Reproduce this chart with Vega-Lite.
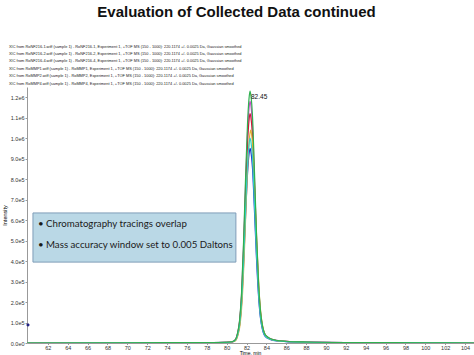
{
  "$schema": "https://vega.github.io/schema/vega-lite/v6.json",
  "width": 447,
  "height": 256,
  "autosize": {"type": "none"},
  "padding": {"left": 27, "top": 87, "right": 0, "bottom": 12},
  "background": "white",
  "config": {"view": {"stroke": null}, "font": "Liberation Sans", "axis": {"labelOverlap": false}},
  "title": {
    "text": "Evaluation of Collected Data continued",
    "fontSize": 15,
    "fontWeight": "bold",
    "font": "Liberation Sans",
    "color": "#111",
    "anchor": "middle",
    "frame": "group",
    "dx": -14,
    "offset": 24
  },
  "datasets": {
    "tr": [
      {"s":"RoNF216-1","t":59.9,"v":0},{"s":"RoNF216-1","t":70,"v":950},{"s":"RoNF216-1","t":78,"v":1900},{"s":"RoNF216-1","t":80.0,"v":2850},{"s":"RoNF216-1","t":80.6,"v":5700},{"s":"RoNF216-1","t":80.9,"v":14250},{"s":"RoNF216-1","t":81.1,"v":38000},{"s":"RoNF216-1","t":81.3,"v":85500},{"s":"RoNF216-1","t":81.5,"v":190000},{"s":"RoNF216-1","t":81.7,"v":380000},{"s":"RoNF216-1","t":81.9,"v":617500},{"s":"RoNF216-1","t":82.1,"v":826500},{"s":"RoNF216-1","t":82.25,"v":921500},{"s":"RoNF216-1","t":82.35,"v":950000},{"s":"RoNF216-1","t":82.45,"v":931000},{"s":"RoNF216-1","t":82.6,"v":855000},{"s":"RoNF216-1","t":82.8,"v":646000},{"s":"RoNF216-1","t":83.0,"v":418000},{"s":"RoNF216-1","t":83.2,"v":237500},{"s":"RoNF216-1","t":83.4,"v":123500},{"s":"RoNF216-1","t":83.6,"v":66500},{"s":"RoNF216-1","t":83.8,"v":38000},{"s":"RoNF216-1","t":84.1,"v":23750},{"s":"RoNF216-1","t":84.5,"v":15200},{"s":"RoNF216-1","t":85.0,"v":10450},{"s":"RoNF216-1","t":86.0,"v":6650},{"s":"RoNF216-1","t":88.0,"v":3800},{"s":"RoNF216-1","t":92.0,"v":1900},{"s":"RoNF216-1","t":100,"v":950},{"s":"RoNF216-1","t":104.9,"v":0},
      {"s":"RoNF216-2","t":59.9,"v":0},{"s":"RoNF216-2","t":70,"v":1180},{"s":"RoNF216-2","t":78,"v":2360},{"s":"RoNF216-2","t":80.0,"v":3540},{"s":"RoNF216-2","t":80.6,"v":7080},{"s":"RoNF216-2","t":80.9,"v":17700},{"s":"RoNF216-2","t":81.1,"v":47200},{"s":"RoNF216-2","t":81.3,"v":106200},{"s":"RoNF216-2","t":81.5,"v":236000},{"s":"RoNF216-2","t":81.7,"v":472000},{"s":"RoNF216-2","t":81.9,"v":767000},{"s":"RoNF216-2","t":82.1,"v":1026600},{"s":"RoNF216-2","t":82.25,"v":1144600},{"s":"RoNF216-2","t":82.35,"v":1180000},{"s":"RoNF216-2","t":82.45,"v":1156400},{"s":"RoNF216-2","t":82.6,"v":1062000},{"s":"RoNF216-2","t":82.8,"v":802400},{"s":"RoNF216-2","t":83.0,"v":519200},{"s":"RoNF216-2","t":83.2,"v":295000},{"s":"RoNF216-2","t":83.4,"v":153400},{"s":"RoNF216-2","t":83.6,"v":82600},{"s":"RoNF216-2","t":83.8,"v":47200},{"s":"RoNF216-2","t":84.1,"v":29500},{"s":"RoNF216-2","t":84.5,"v":18880},{"s":"RoNF216-2","t":85.0,"v":12980},{"s":"RoNF216-2","t":86.0,"v":8260},{"s":"RoNF216-2","t":88.0,"v":4720},{"s":"RoNF216-2","t":92.0,"v":2360},{"s":"RoNF216-2","t":100,"v":1180},{"s":"RoNF216-2","t":104.9,"v":0},
      {"s":"RoNF216-4","t":59.9,"v":0},{"s":"RoNF216-4","t":70,"v":1120},{"s":"RoNF216-4","t":78,"v":2240},{"s":"RoNF216-4","t":80.0,"v":3360},{"s":"RoNF216-4","t":80.6,"v":6720},{"s":"RoNF216-4","t":80.9,"v":16800},{"s":"RoNF216-4","t":81.1,"v":44800},{"s":"RoNF216-4","t":81.3,"v":100800},{"s":"RoNF216-4","t":81.5,"v":224000},{"s":"RoNF216-4","t":81.7,"v":448000},{"s":"RoNF216-4","t":81.9,"v":728000},{"s":"RoNF216-4","t":82.1,"v":974400},{"s":"RoNF216-4","t":82.25,"v":1086400},{"s":"RoNF216-4","t":82.35,"v":1120000},{"s":"RoNF216-4","t":82.45,"v":1097600},{"s":"RoNF216-4","t":82.6,"v":1008000},{"s":"RoNF216-4","t":82.8,"v":761600},{"s":"RoNF216-4","t":83.0,"v":492800},{"s":"RoNF216-4","t":83.2,"v":280000},{"s":"RoNF216-4","t":83.4,"v":145600},{"s":"RoNF216-4","t":83.6,"v":78400},{"s":"RoNF216-4","t":83.8,"v":44800},{"s":"RoNF216-4","t":84.1,"v":28000},{"s":"RoNF216-4","t":84.5,"v":17920},{"s":"RoNF216-4","t":85.0,"v":12320},{"s":"RoNF216-4","t":86.0,"v":7840},{"s":"RoNF216-4","t":88.0,"v":4480},{"s":"RoNF216-4","t":92.0,"v":2240},{"s":"RoNF216-4","t":100,"v":1120},{"s":"RoNF216-4","t":104.9,"v":0},
      {"s":"RoMMP1","t":59.9,"v":0},{"s":"RoMMP1","t":70,"v":1040},{"s":"RoMMP1","t":78,"v":2080},{"s":"RoMMP1","t":80.06,"v":3120},{"s":"RoMMP1","t":80.66,"v":6240},{"s":"RoMMP1","t":80.96,"v":15600},{"s":"RoMMP1","t":81.16,"v":41600},{"s":"RoMMP1","t":81.36,"v":93600},{"s":"RoMMP1","t":81.56,"v":208000},{"s":"RoMMP1","t":81.76,"v":416000},{"s":"RoMMP1","t":81.96,"v":676000},{"s":"RoMMP1","t":82.16,"v":904800},{"s":"RoMMP1","t":82.31,"v":1008800},{"s":"RoMMP1","t":82.41,"v":1040000},{"s":"RoMMP1","t":82.51,"v":1019200},{"s":"RoMMP1","t":82.66,"v":936000},{"s":"RoMMP1","t":82.86,"v":707200},{"s":"RoMMP1","t":83.06,"v":457600},{"s":"RoMMP1","t":83.26,"v":260000},{"s":"RoMMP1","t":83.46,"v":135200},{"s":"RoMMP1","t":83.66,"v":72800},{"s":"RoMMP1","t":83.86,"v":41600},{"s":"RoMMP1","t":84.16,"v":26000},{"s":"RoMMP1","t":84.56,"v":16640},{"s":"RoMMP1","t":85.06,"v":11440},{"s":"RoMMP1","t":86.06,"v":7280},{"s":"RoMMP1","t":88.0,"v":4160},{"s":"RoMMP1","t":92.0,"v":2080},{"s":"RoMMP1","t":100,"v":1040},{"s":"RoMMP1","t":104.9,"v":0},
      {"s":"RoMMP4","t":59.9,"v":0},{"s":"RoMMP4","t":70,"v":1000},{"s":"RoMMP4","t":78,"v":2000},{"s":"RoMMP4","t":80.0,"v":3000},{"s":"RoMMP4","t":80.6,"v":6000},{"s":"RoMMP4","t":80.9,"v":15000},{"s":"RoMMP4","t":81.1,"v":40000},{"s":"RoMMP4","t":81.3,"v":90000},{"s":"RoMMP4","t":81.5,"v":200000},{"s":"RoMMP4","t":81.7,"v":400000},{"s":"RoMMP4","t":81.9,"v":650000},{"s":"RoMMP4","t":82.1,"v":870000},{"s":"RoMMP4","t":82.25,"v":970000},{"s":"RoMMP4","t":82.35,"v":1000000},{"s":"RoMMP4","t":82.45,"v":980000},{"s":"RoMMP4","t":82.6,"v":900000},{"s":"RoMMP4","t":82.8,"v":680000},{"s":"RoMMP4","t":83.0,"v":440000},{"s":"RoMMP4","t":83.2,"v":250000},{"s":"RoMMP4","t":83.4,"v":130000},{"s":"RoMMP4","t":83.6,"v":70000},{"s":"RoMMP4","t":83.8,"v":40000},{"s":"RoMMP4","t":84.1,"v":25000},{"s":"RoMMP4","t":84.5,"v":16000},{"s":"RoMMP4","t":85.0,"v":11000},{"s":"RoMMP4","t":86.0,"v":7000},{"s":"RoMMP4","t":88.0,"v":4000},{"s":"RoMMP4","t":92.0,"v":2000},{"s":"RoMMP4","t":100,"v":1000},{"s":"RoMMP4","t":104.9,"v":0},
      {"s":"RoMMP2","t":59.9,"v":0},{"s":"RoMMP2","t":70,"v":1230},{"s":"RoMMP2","t":78,"v":2460},{"s":"RoMMP2","t":80.0,"v":3690},{"s":"RoMMP2","t":80.6,"v":7380},{"s":"RoMMP2","t":80.9,"v":18450},{"s":"RoMMP2","t":81.1,"v":49200},{"s":"RoMMP2","t":81.3,"v":110700},{"s":"RoMMP2","t":81.5,"v":246000},{"s":"RoMMP2","t":81.7,"v":492000},{"s":"RoMMP2","t":81.9,"v":799500},{"s":"RoMMP2","t":82.1,"v":1070100},{"s":"RoMMP2","t":82.25,"v":1193100},{"s":"RoMMP2","t":82.35,"v":1230000},{"s":"RoMMP2","t":82.45,"v":1205400},{"s":"RoMMP2","t":82.6,"v":1107000},{"s":"RoMMP2","t":82.8,"v":836400},{"s":"RoMMP2","t":83.0,"v":541200},{"s":"RoMMP2","t":83.2,"v":307500},{"s":"RoMMP2","t":83.4,"v":159900},{"s":"RoMMP2","t":83.6,"v":86100},{"s":"RoMMP2","t":83.8,"v":49200},{"s":"RoMMP2","t":84.1,"v":30750},{"s":"RoMMP2","t":84.5,"v":19680},{"s":"RoMMP2","t":85.0,"v":13530},{"s":"RoMMP2","t":86.0,"v":8610},{"s":"RoMMP2","t":88.0,"v":4920},{"s":"RoMMP2","t":92.0,"v":2460},{"s":"RoMMP2","t":100,"v":1230},{"s":"RoMMP2","t":104.9,"v":0}
    ],
    "notes": [
      {"label": "• Chromatography tracings overlap", "t": 61.0, "v": 581000},
      {"label": "• Mass accuracy window set to 0.005 Daltons", "t": 61.0, "v": 479000}
    ],
    "mk": [{"t": 60.0, "v": 88000}],
    "one": [{}]
  },
  "layer": [
    {
      "data": {"name": "tr"},
      "mark": {"type": "line", "strokeWidth": 1.2, "interpolate": "monotone", "clip": true},
      "encoding": {
        "x": {
          "field": "t", "type": "quantitative",
          "scale": {"domain": [59.9, 104.9], "nice": false, "zero": false},
          "axis": {
            "values": [62,64,66,68,70,72,74,76,78,80,82,84,86,88,90,92,94,96,98,100,102,104],
            "tickCount": 40,
            "labelOverlap": false,
            "title": "Time, min", "titleFontSize": 5, "titleFontWeight": "normal",
            "titleBaseline": "bottom", "titleY": 12, "titleX": 223,
            "labelFontSize": 5.5, "labelColor": "#333", "labelPadding": 1,
            "tickSize": 1.5, "tickColor": "#999", "domainColor": "#999", "grid": false
          }
        },
        "y": {
          "field": "v", "type": "quantitative",
          "scale": {"domain": [0, 1250000], "nice": false},
          "axis": {
            "values": [0,100000,200000,300000,400000,500000,600000,700000,800000,900000,1000000,1100000,1200000],
            "tickCount": 40,
            "labelOverlap": false,
            "labelExpr": "replace(format(datum.value, '.1e'), '+', '')",
            "title": "Intensity", "titleFontSize": 5.5, "titleFontWeight": "normal", "titlePadding": 3,
            "labelFontSize": 5.5, "labelColor": "#333", "labelPadding": 1,
            "tickSize": 2, "tickColor": "#999", "domainColor": "#999", "grid": false
          }
        },
        "color": {
          "field": "s", "type": "nominal",
          "scale": {
            "domain": ["RoNF216-1", "RoNF216-2", "RoNF216-4", "RoMMP1", "RoMMP2", "RoMMP4"],
            "range": ["#2222cc", "#cc44cc", "#d01838", "#e0b030", "#30b050", "#30d0c8"]
          },
          "legend": {
            "orient": "none", "legendX": -25, "legendY": -43,
            "title": null, "symbolType": "square", "symbolSize": 22,
            "symbolStrokeWidth": 0, "labelFontSize": 3.9, "labelLimit": 400, "labelOffset": 2,
            "rowPadding": 2.4, "padding": 0, "labelColor": "#222",
            "labelExpr": "'XIC from ' + datum.label + '.wiff (sample 1) - ' + datum.label + ', Experiment 1, +TOF MS (150 - 1000): 220.1174 +/- 0.0025 Da, Gaussian smoothed'"
          }
        }
      }
    },
    {
      "data": {"name": "one"},
      "mark": {"type": "rect", "fill": "#bad8e6", "stroke": "#7f9db8", "strokeWidth": 1},
      "encoding": {
        "x": {"datum": 60.5, "type": "quantitative"},
        "x2": {"datum": 80.93},
        "y": {"datum": 395000, "type": "quantitative"},
        "y2": {"datum": 635000}
      }
    },
    {
      "data": {"name": "notes"},
      "mark": {"type": "text", "align": "left", "baseline": "middle", "font": "Lato", "fontSize": 9.7, "color": "#1a1a1a"},
      "encoding": {
        "x": {"field": "t", "type": "quantitative"},
        "y": {"field": "v", "type": "quantitative"},
        "text": {"field": "label"}
      }
    },
    {
      "data": {"name": "mk"},
      "mark": {"type": "point", "shape": "diamond", "filled": true, "size": 14, "color": "#202080", "opacity": 1},
      "encoding": {
        "x": {"field": "t", "type": "quantitative"},
        "y": {"field": "v", "type": "quantitative"}
      }
    },
    {
      "data": {"name": "one"},
      "mark": {"type": "text", "text": "82.45", "align": "left", "baseline": "middle", "fontSize": 6.5, "dx": 0, "color": "#111"},
      "encoding": {
        "x": {"datum": 82.45, "type": "quantitative"},
        "y": {"datum": 1200000, "type": "quantitative"}
      }
    }
  ]
}
